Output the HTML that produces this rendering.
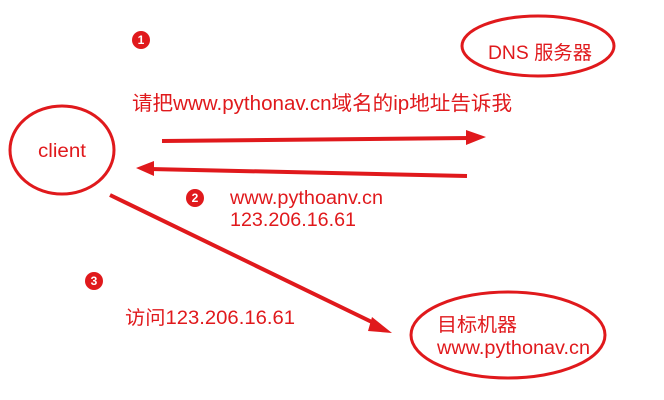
<!DOCTYPE html>
<html><head><meta charset="utf-8"><style>
html,body{margin:0;padding:0;background:#fff;}
svg{display:block;}
text{font-family:"Liberation Sans","Noto Sans CJK SC",sans-serif;fill:#e0191c;}
</style></head><body>
<svg width="664" height="400" viewBox="0 0 664 400">
<g fill="none" stroke="#e0191c" stroke-width="3">
<ellipse cx="538" cy="46" rx="76" ry="30"/>
<ellipse cx="62" cy="150" rx="52" ry="44"/>
<ellipse cx="508" cy="335" rx="97" ry="43"/>
<line x1="162" y1="141" x2="470" y2="138" stroke-width="4"/>
<line x1="467" y1="176" x2="150" y2="169" stroke-width="4"/>
<line x1="110" y1="195" x2="378" y2="325" stroke-width="4"/>
</g>
<g fill="#e0191c">
<polygon points="466,130 486,137 466,145"/>
<polygon points="154,161 136,168 154,176"/>
<polygon points="372,317 392,333 368,331"/>
<circle cx="141" cy="40" r="9"/>
<circle cx="195" cy="198" r="9"/>
<circle cx="94" cy="281" r="9"/>
</g>
<g font-size="12" font-weight="bold" text-anchor="middle">
<text x="141" y="44" style="fill:#fff">1</text>
<text x="195" y="202" style="fill:#fff">2</text>
<text x="94" y="285" style="fill:#fff">3</text>
</g>
<text x="488" y="59" font-size="19" textLength="104" lengthAdjust="spacingAndGlyphs">DNS 服务器</text>
<text x="132" y="110" font-size="20" textLength="380" lengthAdjust="spacingAndGlyphs">请把www.pythonav.cn域名的ip地址告诉我</text>
<text x="38" y="157" font-size="19" textLength="48" lengthAdjust="spacingAndGlyphs">client</text>
<text x="230" y="204" font-size="19" textLength="153" lengthAdjust="spacingAndGlyphs">www.pythoanv.cn</text>
<text x="230" y="226" font-size="19" textLength="126" lengthAdjust="spacingAndGlyphs">123.206.16.61</text>
<text x="125" y="324" font-size="19" textLength="170" lengthAdjust="spacingAndGlyphs">访问123.206.16.61</text>
<text x="437" y="331" font-size="19" textLength="80" lengthAdjust="spacingAndGlyphs">目标机器</text>
<text x="437" y="354" font-size="19" textLength="153" lengthAdjust="spacingAndGlyphs">www.pythonav.cn</text>
</svg>
</body></html>
